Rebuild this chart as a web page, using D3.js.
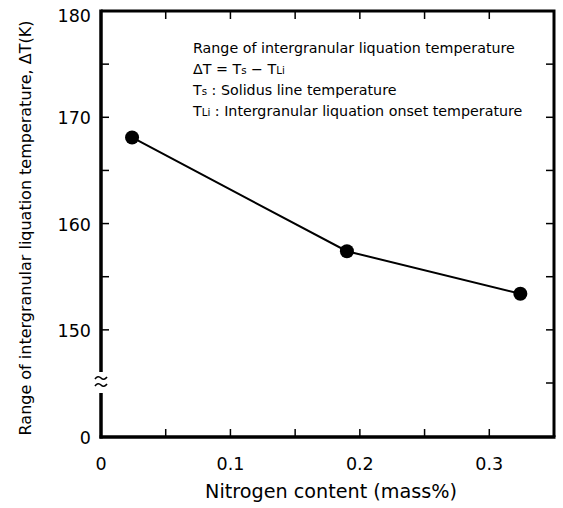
<!DOCTYPE html>
<html>
<head>
<meta charset="utf-8">
<script src="https://cdn.jsdelivr.net/npm/d3@7"></script>
<style>
  body { margin: 0; background: #fff; }
  svg text { font-family: "DejaVu Sans", sans-serif; fill: #000; }
</style>
</head>
<body>
<div id="chart"></div>
<script>
// data
const nitrogen = [0.024, 0.19, 0.324];
const deltaT = [168.1, 157.4, 153.4];
const xTicks = [0, 0.1, 0.2, 0.3];
const xMinor = [0.05, 0.15, 0.25];
const yTicks = [0, 150, 160, 170, 180];
const yMinor = [155, 165, 175];
const legendLines = [
  [["Range of intergranular liquation temperature", false]],
  [["\u0394T = T", false], ["s", true], [" \u2212 T", false], ["Li", true]],
  [["T", false], ["s", true], [" : Solidus line temperature", false]],
  [["T", false], ["Li", true], [" : Intergranular liquation onset temperature", false]]
];

const W = 563, H = 508;
const plotL = 101, plotR = 554, plotT = 11, plotB = 437;

const svg = d3.select("#chart").append("svg")
  .attr("width", W).attr("height", H);

const x = d3.scaleLinear().domain([0, 0.35]).range([plotL, plotR]);
// broken axis: 0 sits just below the break, 145..180 is linear
const y = d3.scaleLinear().domain([0, 145, 180]).range([plotB, 383, plotT]);

// grow/shrink a text's font so it spans a given width
function fitWidth(sel, target) {
  const len = sel.node().getComputedTextLength();
  const fs = parseFloat(sel.style("font-size"));
  sel.style("font-size", (fs * target / len).toFixed(2) + "px");
}

// frame (right + top)
svg.append("path")
  .attr("d", `M${plotL},${plotT}H${plotR}V${plotB}`)
  .attr("fill", "none").attr("stroke", "#000").attr("stroke-width", 3);

// bottom axis line
svg.append("line")
  .attr("x1", plotL - 1.5).attr("x2", plotR + 1.5)
  .attr("y1", plotB).attr("y2", plotB)
  .attr("stroke", "#000").attr("stroke-width", 3.5);

// left axis with break
svg.append("line")
  .attr("x1", plotL).attr("x2", plotL).attr("y1", plotT - 1.5).attr("y2", 372)
  .attr("stroke", "#000").attr("stroke-width", 3.5);
svg.append("line")
  .attr("x1", plotL).attr("x2", plotL).attr("y1", 393).attr("y2", plotB + 1.5)
  .attr("stroke", "#000").attr("stroke-width", 3.5);

// break marks (two small waves)
[378, 385].forEach(cy => {
  svg.append("path")
    .attr("d", `M${plotL - 6},${cy + 1} q3,-4 6,-1 q3,3 6,-1`)
    .attr("fill", "none").attr("stroke", "#000").attr("stroke-width", 1.6);
});

// inward ticks on x (bottom and top)
const xAll = xTicks.slice(1).concat(xMinor);
svg.append("g").selectAll("line").data(xAll).join("line")
  .attr("x1", d => x(d)).attr("x2", d => x(d))
  .attr("y1", plotB).attr("y2", plotB - 8)
  .attr("stroke", "#000").attr("stroke-width", 1.5);
svg.append("g").selectAll("line").data(xAll).join("line")
  .attr("x1", d => x(d)).attr("x2", d => x(d))
  .attr("y1", plotT).attr("y2", plotT + 8)
  .attr("stroke", "#000").attr("stroke-width", 1.5);

// inward ticks on y (left and right)
const yAll = [150, 160, 170].concat(yMinor);
svg.append("g").selectAll("line").data(yAll).join("line")
  .attr("x1", plotL).attr("x2", plotL + 8)
  .attr("y1", d => y(d)).attr("y2", d => y(d))
  .attr("stroke", "#000").attr("stroke-width", 1.5);
svg.append("g").selectAll("line").data(yAll.concat([145])).join("line")
  .attr("x1", plotR).attr("x2", plotR - 8)
  .attr("y1", d => y(d)).attr("y2", d => y(d))
  .attr("stroke", "#000").attr("stroke-width", 1.5);

// tick labels
svg.append("g").selectAll("text").data(xTicks).join("text")
  .attr("x", d => x(d)).attr("y", 470)
  .attr("text-anchor", "middle")
  .style("font-size", "17.5px")
  .text(d => d === 0 ? "0" : d3.format(".1f")(d));

svg.append("g").selectAll("text").data(yTicks).join("text")
  .attr("x", 91).attr("y", d => d === 180 ? 22 : y(d) + 7)
  .attr("text-anchor", "end")
  .style("font-size", "17.5px")
  .text(d => d);

// axis titles
const xTitle = svg.append("text")
  .attr("x", 331).attr("y", 498)
  .attr("text-anchor", "middle")
  .style("font-size", "17px")
  .text("Nitrogen content (mass%)");
fitWidth(xTitle, 252);

const yTitle = svg.append("text")
  .attr("transform", "translate(31,228) rotate(-90)")
  .attr("text-anchor", "middle")
  .style("font-size", "15px")
  .text("Range of intergranular liquation temperature, \u0394T(K)");
fitWidth(yTitle, 415);

// data line + markers
const pts = nitrogen.map((n, i) => [n, deltaT[i]]);
svg.append("path")
  .datum(pts)
  .attr("d", d3.line().x(d => x(d[0])).y(d => y(d[1])))
  .attr("fill", "none").attr("stroke", "#000").attr("stroke-width", 2);
svg.append("g").selectAll("circle").data(pts).join("circle")
  .attr("cx", d => x(d[0])).attr("cy", d => y(d[1]))
  .attr("r", 7).attr("fill", "#000");

// legend text block, sized so the first line spans the same width as the reference
const legend = svg.append("g").style("font-size", "13px");
const probe = legend.append("text").text(legendLines[0][0][0]);
const lgScale = 322 / probe.node().getComputedTextLength();
probe.remove();
const lgSize = 13 * lgScale;
legendLines.forEach((parts, i) => {
  const t = legend.append("text")
    .attr("x", 193).attr("y", 53 + i * 21);
  parts.forEach(([s, sub]) => {
    t.append("tspan")
      .style("font-size", (sub ? lgSize * 0.72 : lgSize).toFixed(2) + "px")
      .text(s);
  });
});
</script>
</body>
</html>
